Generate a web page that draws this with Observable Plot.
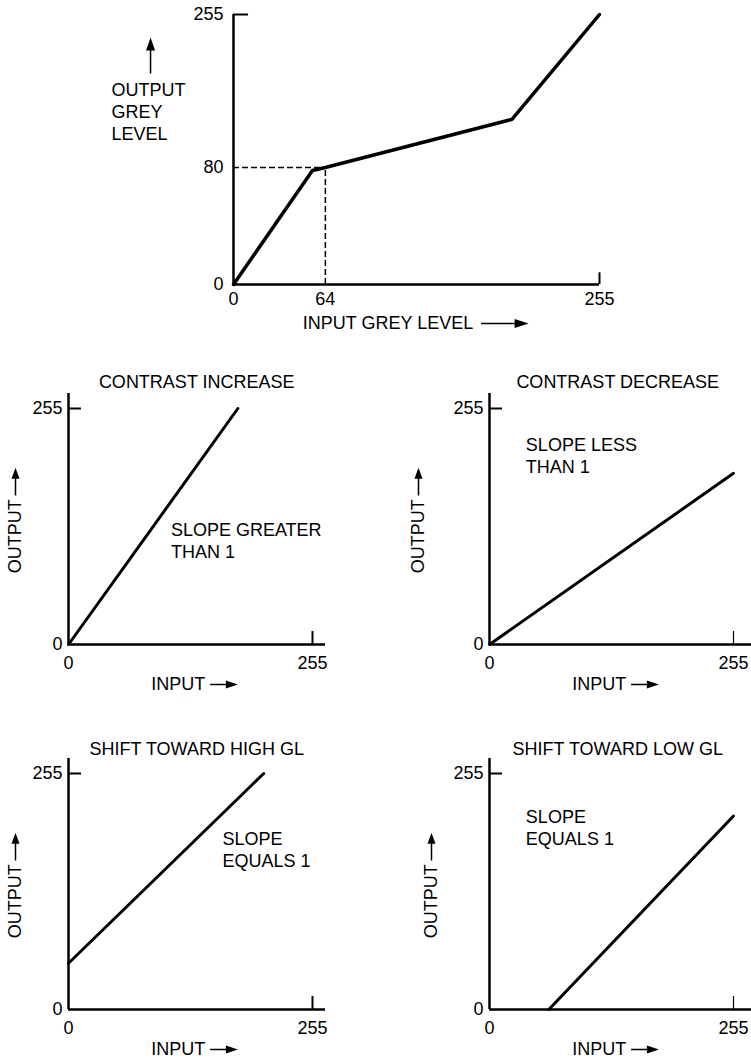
<!DOCTYPE html>
<html>
<head>
<meta charset="utf-8">
<script src="https://cdn.jsdelivr.net/npm/d3@7"></script>
<script src="https://cdn.jsdelivr.net/npm/@observablehq/plot@0.6"></script>
<style>
  html, body { margin: 0; padding: 0; background: #fff; }
  #fig { position: relative; width: 751px; height: 1063px; overflow: hidden; background: #fff; }
  #fig svg { position: absolute; }
</style>
</head>
<body>
<div id="fig"></div>
<script>
// ---------- data ----------
// Main transfer curve (input grey level -> output grey level)
const mainInput  = [0, 55, 64, 194, 255];
const mainOutput = [0, 78, 80, 135, 255];
const mainXTicks = [0, 64, 255];
const mainYTicks = [0, 80, 255];
const markedInput = 64;
const markedOutput = 80;

// Four example stretches
const panelTitles = ["CONTRAST INCREASE", "CONTRAST DECREASE", "SHIFT TOWARD HIGH GL", "SHIFT TOWARD LOW GL"];
const panelNotes = ["SLOPE GREATER\nTHAN 1", "SLOPE LESS\nTHAN 1", "SLOPE\nEQUALS 1", "SLOPE\nEQUALS 1"];
const increaseInput  = [0, 177];
const increaseOutput = [0, 255];
const decreaseInput  = [0, 255];
const decreaseOutput = [0, 185];
const highInput  = [0, 204];
const highOutput = [50, 255];
const lowInput   = [62, 255];
const lowOutput  = [0, 209];
const smallTicks = [0, 255];

// ---------- drawing ----------
const FONT = "'Liberation Sans', Arial, Helvetica, sans-serif";
const FS = 18;
const styleStr = `font-family: ${FONT}; font-size: ${FS}px; background: transparent; overflow: visible; color: #000;`;
const fig = document.getElementById("fig");

function place(svg, left, top) {
  svg.style.left = left + "px";
  svg.style.top = top + "px";
  svg.style.maxWidth = "none";
  fig.appendChild(svg);
}

function arrowHead(x, y, rotate, opts = {}) {
  return Plot.vector([0], {
    x: () => x, y: () => y, rotate, length: opts.length ?? 12, r: opts.r ?? 4,
    anchor: "end", shape: "spike", fill: "black", stroke: "none",
    dx: opts.dx ?? 0, dy: opts.dy ?? 0
  });
}

// The original figure's output axis is schematic (not to scale):
// the 80 level sits higher than a linear axis would put it.
const outputWarp = d3.scaleLinear().domain([0, 80, 255]).range([0, 110.5, 255]);

// Main panel
const mainPlot = Plot.plot({
  width: 530, height: 340,
  marginLeft: 133, marginRight: 31, marginTop: 14, marginBottom: 56,
  x: {domain: [0, 255]},
  y: {domain: [0, 255], transform: outputWarp, axis: null},
  style: styleStr,
  marks: [
    Plot.ruleY([markedOutput], {x1: 0, x2: markedInput, strokeWidth: 1.5, strokeDasharray: "6,3"}),
    Plot.ruleX([markedInput], {y1: 0, y2: markedOutput, strokeWidth: 1.5, strokeDasharray: "6,3"}),
    Plot.ruleX([0], {y1: 0, y2: 255, strokeWidth: 2.5}),
    Plot.ruleY([0], {x1: 0, x2: 255, strokeWidth: 2.5}),
    Plot.ruleY([255], {x1: 0, x2: 10.5, strokeWidth: 2}),
    Plot.ruleX([255], {y1: 0, y2: 8, strokeWidth: 2}),
    Plot.line({length: mainInput.length}, {x: mainInput, y: mainOutput, strokeWidth: 3.5, strokeLinejoin: "round"}),
    Plot.axisX({ticks: mainXTicks, tickSize: 0, tickPadding: 8, label: null, fontSize: FS}),
    Plot.text(mainYTicks, {x: 0, y: d => d, dx: -10, textAnchor: "end", fontSize: FS}),
    Plot.text(["INPUT GREY LEVEL"], {x: 167, y: 0, dy: 39, textAnchor: "end", fontSize: FS}),
    Plot.link([0], {x1: 172.5, x2: 196, y1: 0, y2: 0, dy: 39, strokeWidth: 1.5}),
    arrowHead(205.6, 0, 90, {dy: 39, length: 14, r: 4.5}),
    Plot.text(["OUTPUT\nGREY\nLEVEL"], {x: -85, y: 145, textAnchor: "start", lineHeight: 1.22, fontSize: FS}),
    Plot.link([0], {x1: -57.8, x2: -57.8, y1: 187.5, y2: 220, strokeWidth: 1.5}),
    arrowHead(-57.8, 228.7, 0, {length: 13, r: 4.5})
  ]
});
place(mainPlot, 100, 0);

// Small panels
const panelCfg = [
  {left: 0,   top: 360, x: increaseInput, y: increaseOutput, noteX: 107, noteY: 113, outDx: -53, xExt: 13, tickW: 2,   titleDy: -33},
  {left: 421, top: 360, x: decreaseInput, y: decreaseOutput, noteX: 38,  noteY: 205, outDx: -71, xExt: 18, tickW: 1.2, titleDy: -33},
  {left: 0,   top: 725, x: highInput,     y: highOutput,     noteX: 161, noteY: 173, outDx: -53, xExt: 13, tickW: 2,   titleDy: -31},
  {left: 421, top: 725, x: lowInput,      y: lowOutput,      noteX: 38,  noteY: 197, outDx: -58, xExt: 18, tickW: 1.2, titleDy: -31}
];

panelCfg.forEach((c, i) => {
  const p = Plot.plot({
    width: 330, height: 338,
    marginLeft: 68, marginRight: 18, marginTop: 48, marginBottom: 54,
    x: {domain: [0, 255]},
    y: {domain: [0, 255]},
    style: styleStr,
    marks: [
      Plot.ruleX([0], {insetTop: -15, strokeWidth: 2.5}),
      Plot.ruleY([0], {insetRight: -c.xExt, strokeWidth: 2.5}),
      Plot.ruleY([255], {x1: 0, x2: 13.6, strokeWidth: 2}),
      Plot.ruleX([255], {y1: 0, y2: 14, strokeWidth: c.tickW}),
      Plot.line({length: c.x.length}, {x: c.x, y: c.y, strokeWidth: 3}),
      Plot.axisX({ticks: smallTicks, tickSize: 0, tickPadding: 12, label: null, fontSize: FS}),
      Plot.axisY({ticks: smallTicks, tickSize: 0, tickPadding: 6, label: null, fontSize: FS}),
      Plot.text([panelTitles[i]], {x: 134, frameAnchor: "top", dy: c.titleDy, fontSize: FS}),
      Plot.text([panelNotes[i]], {x: c.noteX, y: c.noteY, textAnchor: "start", lineHeight: 1.22, fontSize: FS}),
      Plot.text(["INPUT"], {x: 143, y: 0, dy: 40, textAnchor: "end", fontSize: FS}),
      Plot.link([0], {x1: 148, x2: 168, y1: 0, y2: 0, dy: 40, strokeWidth: 1.5}),
      arrowHead(177, 0, 90, {dy: 40, length: 12, r: 4}),
      Plot.text(["OUTPUT"], {x: 0, y: 77, dx: c.outDx, rotate: -90, textAnchor: "start", fontSize: FS}),
      Plot.link([0], {x1: 0, x2: 0, y1: 161, y2: 183, dx: c.outDx, strokeWidth: 1.5}),
      arrowHead(0, 191, 0, {dx: c.outDx, length: 11, r: 4})
    ]
  });
  place(p, c.left, c.top);
});
</script>
</body>
</html>
